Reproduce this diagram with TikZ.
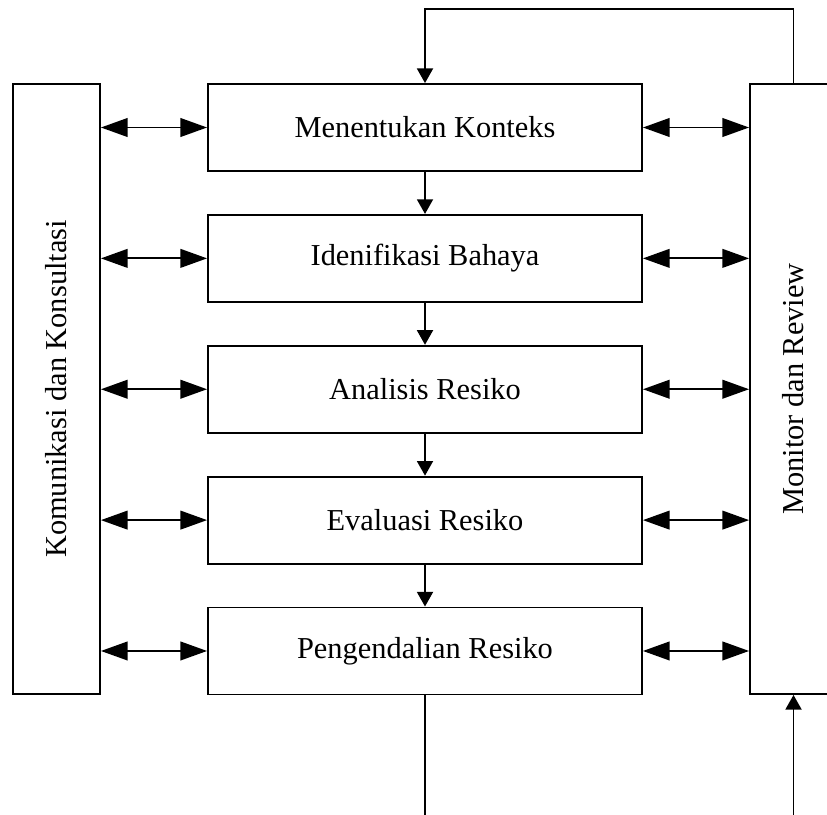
\documentclass[tikz,border=0pt]{standalone}
\usepackage{fontspec}
\setmainfont{Liberation Serif}
\usetikzlibrary{arrows.meta,positioning,calc}

\begin{document}
\begin{tikzpicture}[
    x=0.75pt, y=-0.75pt,
    node distance=31.5pt,%设置node之间的距离
    line width=1.4pt,
    stage/.style={
        % The shape:
        rectangle, draw,
        minimum width=325.5pt,
        minimum height=65.25pt,
        inner sep=0pt,
        % The fonts
        font=\fontsize{22.8}{26}\selectfont},
    sidebox/.style={
        rectangle, draw,
        minimum width=65.25pt,
        minimum height=457.5pt,
        inner sep=0pt},
    sidetext/.style={rotate=90, font=\fontsize{22.8}{26}\selectfont},
    both/.style={{Triangle[length=20pt,width=14pt]}-{Triangle[length=20pt,width=14pt]}},
    flow/.style={-{Triangle[length=11pt,width=12pt]}}]
  \clip (0,0) rectangle (827,814);
  %中间五个步骤
  \node (konteks) [stage] at (425,127.5) {Menentukan Konteks};
  \node (bahaya) [stage,below=of konteks] {Idenifikasi Bahaya};
  \node (analisis) [stage,below=of bahaya] {Analisis Resiko};
  \node (evaluasi) [stage,below=of analisis] {Evaluasi Resiko};
  \node (pengendalian) [stage,below=of evaluasi] {Pengendalian Resiko};
  %两侧的竖框
  \node (komunikasi) [sidebox] at (56.5,389) {};
  \node [sidetext] at (komunikasi) {Komunikasi dan Konsultasi};
  \node (monitor) [sidebox] at (793.5,389) {};
  \node [sidetext] at (monitor) {Monitor dan Review};
  \foreach \n in {konteks,bahaya,analisis,evaluasi,pengendalian} {
    \draw[both] (komunikasi.east |- \n.west) -- (\n.west);
    \draw[both] (\n.east) -- (monitor.west |- \n.east);
  }
  \draw[flow] (konteks) -- (bahaya);
  \draw[flow] (bahaya) -- (analisis);
  \draw[flow] (analisis) -- (evaluasi);
  \draw[flow] (evaluasi) -- (pengendalian);
  %上方回路与下方出口
  \coordinate (puncak) at (425,9);
  \coordinate (bawah) at (425,830);
  \coordinate (masuk) at (793.5,830);
  \draw[flow] (monitor.north) |- (puncak) -- (konteks.north);
  \draw (pengendalian.south) -- (bawah);
  \draw[flow] (masuk) -- (monitor.south);
\end{tikzpicture}
\end{document}
